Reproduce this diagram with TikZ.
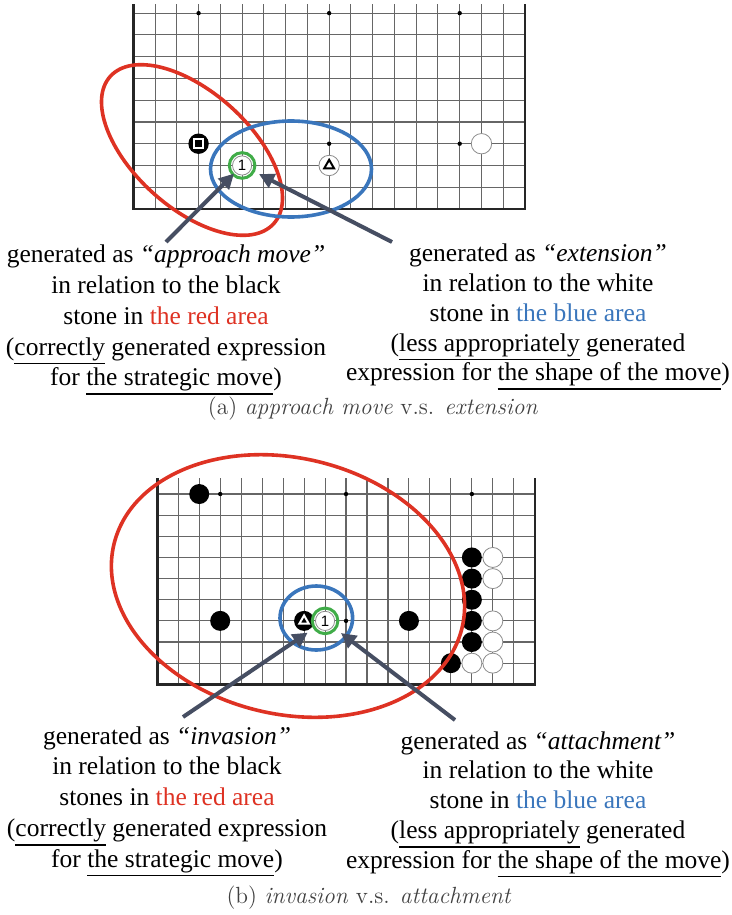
\documentclass[tikz,border=0pt]{standalone}
\usepackage{fontspec}
\newfontfamily\notefont{Liberation Serif}
\newfontfamily\stonefont{Liberation Sans}
\usetikzlibrary{arrows.meta}
\definecolor{areared}{RGB}{222,50,35}
\definecolor{areablue}{RGB}{58,118,188}
\definecolor{markgreen}{RGB}{64,172,72}
\definecolor{arrowgray}{RGB}{70,78,98}
\newcommand\uword[1]{\vtop{\hbox{#1}\kern1pt\hrule height 0.8pt}}

\begin{document}
\begin{tikzpicture}[x=0.5pt, y=-0.5pt,
    gridline/.style={black!60, line width=0.55pt},
    edge/.style={black!85, line width=1.2pt},
    bstone/.style={circle, fill=black, inner sep=0pt, minimum size=10.2pt},
    wstone/.style={circle, draw=black!45, fill=white, line width=0.4pt, inner sep=0pt, minimum size=10.2pt},
    movestone/.style={wstone, minimum size=9.6pt, font=\stonefont\fontsize{7.5}{7.5}\selectfont},
    ring/.style={circle, draw=markgreen, line width=1.5pt, inner sep=0pt, minimum size=12.8pt},
    stonemark/.style={line width=1pt},
    area/.style={line width=1.8pt},
    arr/.style={-{Triangle[length=7.5pt, width=7.5pt]}, line width=2pt, draw=arrowgray, fill=arrowgray},
    note/.style={font=\notefont\fontsize{12.75}{15.4}\selectfont, align=center, inner sep=0pt, anchor=north},
    capt/.style={font=\fontsize{11.7}{14}\selectfont, text=black!75, inner sep=0pt, anchor=base}
  ]
  \useasboundingbox (0,0) rectangle (732,915);

  % (a) board
  \begin{scope}[shift={(133.3,209)}, x=10.88pt, y=10.88pt]
    \foreach \c in {1,...,17} \draw[gridline] (\c,0) -- (\c,9.42);
    \foreach \r in {1,...,9} \draw[gridline] (0,\r) -- (18,\r);
    \draw[edge] (0,9.42) -- (0,0) -- (18,0) -- (18,9.42);
    \foreach \c/\r in {3/3,9/3,15/3,3/9,9/9,15/9} \fill (\c,\r) circle[radius=1.1pt];
    \node[bstone] (sqA) at (3,3) {};
    \draw[stonemark, white] (sqA.center) +(-0.2,-0.2) rectangle +(0.2,0.2);
    \node[wstone] (triA) at (9,2) {};
    \draw[stonemark] (triA.center) +(90:0.26) -- +(210:0.26) -- +(330:0.26) -- cycle;
    \node[wstone] (wA) at (16,3) {};
    \node[movestone] (mvA) at (5,2) {1};
    \node[ring] (ringA) at (mvA) {};
  \end{scope}

  \draw[area, areared, rotate around={-42:(192,150)}] (192,150) ellipse [x radius=55pt, y radius=29pt];
  \draw[area, areablue] (291,169) ellipse [x radius=40.25pt, y radius=24pt];

  \node[note] (txtA1) at (166,244.6) {generated as \textit{“approach move”}\\
    in relation to the black\\
    stone in \textcolor{areared}{the red area}\\
    (\uword{correctly} generated expression\\
    for \uword{the strategic move})};
  \node[note, font=\notefont\fontsize{12.75}{14.9}\selectfont] (txtA2) at (538,243.6) {generated as \textit{“extension”}\\
    in relation to the white\\
    stone in \textcolor{areablue}{the blue area}\\
    (\uword{less appropriately} generated\\
    expression for \uword{the shape of the move})};

  \coordinate (tA1) at (166,242);
  \coordinate (tA2) at (392,242);
  \draw[arr, shorten >=0.75pt] (tA1) -- (mvA);
  \draw[arr, shorten >=4.5pt] (tA2) -- (mvA);

  \node[capt] (capA) at (373,414) {(a) \textit{approach move} v.s. \textit{extension}};

  % (b) board
  \begin{scope}[shift={(157.3,684.3)}, x=10.485pt, y=10.57pt]
    \foreach \c in {1,...,17} \draw[gridline] (\c,0) -- (\c,9.74);
    \foreach \r in {1,...,9} \draw[gridline] (0,\r) -- (18,\r);
    \draw[edge] (0,9.74) -- (0,0) -- (18,0) -- (18,9.74);
    \foreach \c/\r in {3/3,9/3,15/3,3/9,9/9,15/9} \fill (\c,\r) circle[radius=1.1pt];
    \foreach \c/\r in {2/9,3/3,12/3,15/6,15/5,15/4,15/3,15/2,14/1}
      \node[bstone, minimum size=10pt] (b-\c-\r) at (\c,\r) {};
    \foreach \c/\r in {16/6,16/5,16/3,16/2,15/1,16/1}
      \node[wstone, minimum size=10pt] (w-\c-\r) at (\c,\r) {};
    \node[bstone, minimum size=10pt] (triB) at (7,3) {};
    \draw[stonemark, white] (triB.center) +(90:0.26) -- +(210:0.26) -- +(330:0.26) -- cycle;
    \node[movestone] (mvB) at (8,3) {1};
    \node[ring] (ringB) at (mvB) {};
  \end{scope}

  \draw[area, areared, rotate around={-13.5:(288,586)}] (288,586) ellipse [x radius=89.5pt, y radius=64pt];
  \draw[area, areablue] (316.3,618) ellipse [x radius=18.15pt, y radius=16pt];

  \node[note] (txtB1) at (167,726) {generated as \textit{“invasion”}\\
    in relation to the black\\
    stones in \textcolor{areared}{the red area}\\
    (\uword{correctly} generated expression\\
    for \uword{the strategic move})};
  \node[note, font=\notefont\fontsize{12.75}{14.9}\selectfont] (txtB2) at (538,731) {generated as \textit{“attachment”}\\
    in relation to the white\\
    stone in \textcolor{areablue}{the blue area}\\
    (\uword{less appropriately} generated\\
    expression for \uword{the shape of the move})};

  \coordinate (tB1) at (183,717);
  \coordinate (tB2) at (455,720);
  \draw[arr, shorten >=5.5pt] (tB1) -- (mvB);
  \draw[arr, shorten >=5pt] (tB2) -- (mvB);

  \node[capt] (capB) at (369,903) {(b) \textit{invasion} v.s. \textit{attachment}};
\end{tikzpicture}
\end{document}
